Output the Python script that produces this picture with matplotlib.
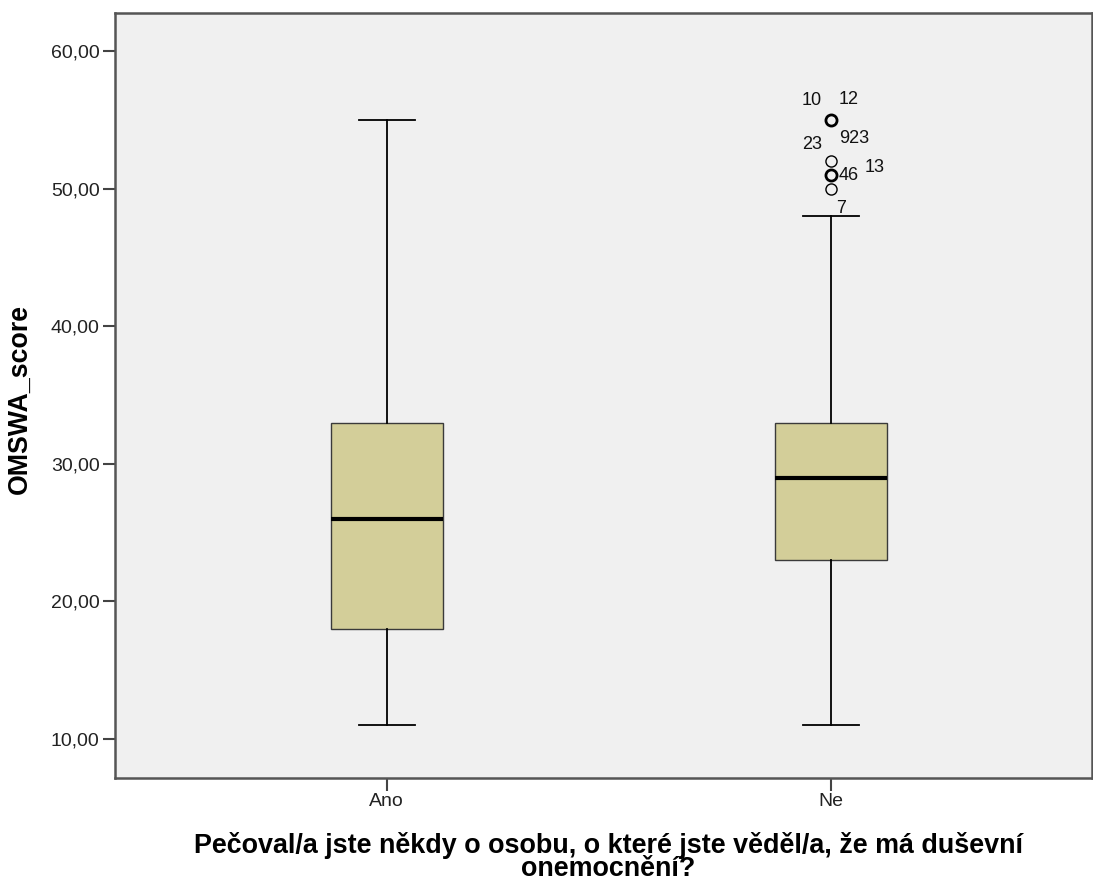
#-*- coding: utf-8 -*-
# ----- Include library -----
import numpy as np
import matplotlib
matplotlib.use("Agg")
import matplotlib.pyplot as plt

plt.rcParams['font.family'] = ['Liberation Sans', 'DejaVu Sans']

# ----- Data -----
groups = ["Ano", "Ne"]
whislo = [11, 11]
q1 = [18, 23]
med = [26, 29]
q3 = [33, 33]
whishi = [55, 48]
ne_fliers = [55, 55, 52, 51, 51, 50]
# outlier labels: (value, text, offset in pixels)
flier_labels = [(55, "10", (-19, 19)), (55, "12", (18, 20)),
                (52, "23", (-19, 17)), (52, "923", (23, 23)),
                (51, "46", (18, -1)), (51, "13", (44, 7)),
                (50, "7", (10, -20))]

# ----- Plot -----
fig = plt.figure(figsize=(10.93, 8.83), dpi=100)
ax = fig.add_axes([115/1093, 1-778/883, 1-115/1093-0.001, (778-13)/883])
ax.set_facecolor("#F0F0F0")

stats = []
for i, g in enumerate(groups):
    stats.append(dict(label=g, whislo=whislo[i], q1=q1[i], med=med[i],
                      q3=q3[i], whishi=whishi[i], fliers=[]))

ax.bxp(stats, positions=[1, 2], widths=0.252, patch_artist=True,
       showfliers=False,
       boxprops=dict(facecolor="#D3CE99", edgecolor="#3a3a3a", linewidth=1.0),
       medianprops=dict(color="black", linewidth=3.0),
       whiskerprops=dict(color="black", linewidth=1.3),
       capprops=dict(color="black", linewidth=1.3),
       capwidths=0.126)

# outliers of "Ne" (bold circles = repeated values)
vals, counts = np.unique(ne_fliers, return_counts=True)
for v, c in zip(vals, counts):
    ax.plot(2, v, marker="o", markersize=8, markerfacecolor="none",
            markeredgecolor="black", markeredgewidth=1.0 if c == 1 else 2.0)
for v, t, off in flier_labels:
    ax.annotate(t, (2, v), xytext=off, textcoords="offset pixels",
                ha="center", va="center", fontsize=13, color="#111111")

ax.set_xlim(0.389, 2.587)
ax.set_ylim(7.17, 62.76)
ax.set_yticks([10, 20, 30, 40, 50, 60])
ax.set_yticklabels(["%d,00" % v for v in [10, 20, 30, 40, 50, 60]])
ax.tick_params(axis="both", direction="out", length=9, width=1.5,
               colors="#444444", labelcolor="#222222", labelsize=14, pad=2)

for s in ax.spines.values():
    s.set_color("#555555")
    s.set_linewidth(1.8)

ax.set_ylabel("OMSWA_score", fontsize=19.3, fontweight="bold")
ax.yaxis.set_label_coords(-0.084, 0.496)
ax.set_xlabel("Pečoval/a jste někdy o osobu, o které jste věděl/a, že má duševní\nonemocnění?",
              fontsize=19.4, fontweight="bold", linespacing=0.84)
ax.xaxis.set_label_coords(0.505, -0.071)

fig.savefig("out.png", dpi=100)
